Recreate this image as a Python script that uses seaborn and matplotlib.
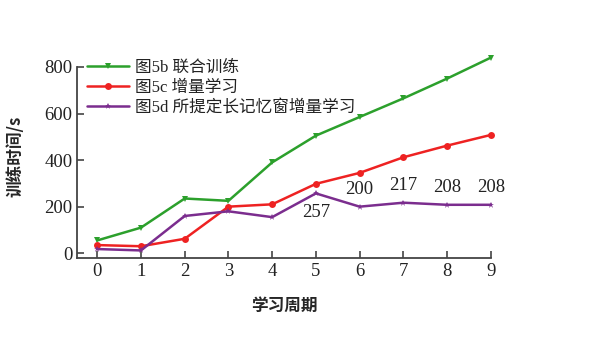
import matplotlib
matplotlib.use("Agg")
import matplotlib.pyplot as plt
import seaborn as sns
import pandas as pd

epochs = [0, 1, 2, 3, 4, 5, 6, 7, 8, 9]
joint = [55, 110, 235, 225, 390, 505, 585, 665, 750, 840]
incremental = [35, 30, 62, 200, 210, 298, 345, 412, 462, 508]
proposed = [18, 12, 160, 180, 155, 257, 200, 217, 208, 208]
series_names = ["图5b 联合训练", "图5c 增量学习", "图5d 所提定长记忆窗增量学习"]
colors = ["#2ca02c", "#ee2222", "#7b2d8e"]
annot_idx = [5, 6, 7, 8, 9]
yticks = [0, 200, 400, 600, 800]

rows = []
for name, vals in zip(series_names, [joint, incremental, proposed]):
    for e, v in zip(epochs, vals):
        rows.append({"epoch": e, "time": v, "series": name})
df = pd.DataFrame(rows)

sns.set_style("ticks")
plt.rcParams['font.family'] = ['Liberation Serif', 'Noto Sans CJK SC']
plt.rcParams['axes.unicode_minus'] = False

fig = plt.figure(figsize=(6.12, 3.59), dpi=100)
ax = fig.add_axes([0.126, 0.281, 0.676, 0.565])

sns.lineplot(data=df, x="epoch", y="time", hue="series", style="series",
             markers=["v", "o", "*"], dashes=False, palette=colors,
             hue_order=series_names, style_order=series_names,
             markersize=5, linewidth=1.8, markeredgewidth=0, ax=ax)
for ln in ax.lines:
    ln.set_clip_on(False)

ax.set_xlim(-0.46, 9)
ax.set_ylim(-21, 850)
ax.set_xticks(epochs)
ax.set_yticks(yticks)
ax.spines['top'].set_visible(False)
ax.spines['right'].set_visible(False)
ax.spines['left'].set_bounds(-21, 800)
for s in ['left', 'bottom']:
    ax.spines[s].set_color('#444444')
    ax.spines[s].set_linewidth(1.3)
ax.tick_params(direction='in', length=5, width=1.2, color='#444444',
               labelsize=13.5, labelcolor='#222222')

ax.set_xlabel("学习周期", fontsize=12, fontweight='bold', labelpad=12,
              family=['Noto Sans CJK SC'])
ax.set_ylabel("训练时间/s", fontsize=12, fontweight='bold', labelpad=14,
              family=['Noto Sans CJK SC', 'Liberation Serif'])

for i in annot_idx:
    v = proposed[i]
    if i == 5:
        ax.annotate(str(v), (epochs[i], v), xytext=(0, -8), textcoords='offset points',
                    ha='center', va='top', fontsize=13.5, color='#222222')
    else:
        ax.annotate(str(v), (epochs[i], v), xytext=(0, 6), textcoords='offset points',
                    ha='center', va='bottom', fontsize=13.5, color='#222222')

leg = ax.legend(loc='upper left', bbox_to_anchor=(0.0, 1.025), frameon=False,
                fontsize=12, handlelength=2.5, handletextpad=0.4,
                labelspacing=0.22, borderaxespad=0.2)
for t in leg.get_texts():
    t.set_color('#222222')

fig.savefig("out.png", dpi=100)
